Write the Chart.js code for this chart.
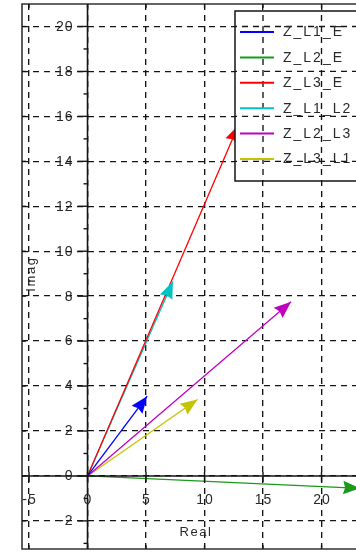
<!DOCTYPE html>
<html>
<head>
<meta charset="utf-8">
<script src="https://cdn.jsdelivr.net/npm/chart.js@4/dist/chart.umd.min.js"></script>
<style>
  html, body { margin: 0; padding: 0; background: #fff; overflow: hidden; }
  #wrap { width: 356px; height: 552px; overflow: hidden; position: relative; }
  #c { display: block; }
</style>
</head>
<body>
<div id="wrap"><canvas id="c" width="392" height="552" style="width:392px;height:552px"></canvas></div>
<script>
// Impedance phasors: real and imaginary parts of each vector
const seriesNames  = ['Z_L1_E', 'Z_L2_E', 'Z_L3_E', 'Z_L1_L2', 'Z_L2_L3', 'Z_L3_L1'];
const realParts    = [5.1, 23.3, 12.9, 7.3, 17.4, 9.4];
const imagParts    = [3.55, -0.55, 15.6, 8.65, 7.75, 3.4];
const seriesColors = ['#0000ff', '#1a991a', '#ff0000', '#00c4c4', '#c000c0', '#c4c400'];

// Axis ticks
const xTicks      = [-5, 0, 5, 10, 15, 20, 25];
const xTickLabels = ['-5', '0', '5', '10', '15', '20', '25'];
const yTicks      = [-2, 0, 2, 4, 6, 8, 10, 12, 14, 16, 18, 20];
const yTickLabels = ['-2', '0', '2', '4', '6', '8', '10', '12', '14', '16', '18', '20'];
const yMinorTicks = [-3, -1, 1, 3, 5, 7, 9, 11, 13, 15, 17, 19];

const xTitle = 'Real';
const yTitle = 'Imag';

const FONT = '"Liberation Sans", Arial, sans-serif';
const TEXT = '#2a2a2a';
const INK = '#151515';
const GRID_DASH = [6, 5];
const GRID_WIDTH = 1.35;

const datasets = seriesNames.map((name, i) => ({
  label: name,
  data: [{ x: 0, y: 0 }, { x: realParts[i], y: imagParts[i] }],
  borderColor: seriesColors[i],
  backgroundColor: seriesColors[i],
  borderWidth: 1.3,
  showLine: true,
  pointRadius: 0,
  clip: false
}));

function seg(ctx, x1, y1, x2, y2) {
  ctx.beginPath();
  ctx.moveTo(x1, y1);
  ctx.lineTo(x2, y2);
  ctx.stroke();
}

const phasorPlugin = {
  id: 'phasorDecor',
  afterDatasetsDraw(chart) {
    const ctx = chart.ctx;
    const xs = chart.scales.x, ys = chart.scales.y;
    const area = chart.chartArea;
    const x0 = xs.getPixelForValue(0), y0 = ys.getPixelForValue(0);

    // arrow heads at the end of every vector
    chart.data.datasets.forEach((ds, i) => {
      const meta = chart.getDatasetMeta(i);
      const a = meta.data[0], b = meta.data[1];
      const ang = Math.atan2(b.y - a.y, b.x - a.x);
      const len = 17, half = 6.8;
      ctx.save();
      ctx.translate(b.x, b.y);
      ctx.rotate(ang);
      ctx.fillStyle = ds.borderColor;
      ctx.beginPath();
      ctx.moveTo(0, 0);
      ctx.lineTo(-len, -half);
      ctx.lineTo(-len + 2, 0);
      ctx.lineTo(-len, half);
      ctx.closePath();
      ctx.fill();
      ctx.restore();
    });

    ctx.save();
    // frame
    ctx.strokeStyle = '#333';
    ctx.lineWidth = 1.6;
    ctx.beginPath();
    ctx.moveTo(area.right + 20, area.top);
    ctx.lineTo(area.left, area.top);
    ctx.lineTo(area.left, area.bottom);
    ctx.lineTo(area.right + 20, area.bottom);
    ctx.stroke();

    // frame ticks
    ctx.lineWidth = 1.3;
    ctx.strokeStyle = INK;
    yTicks.forEach(v => {
      const y = ys.getPixelForValue(v);
      seg(ctx, area.left, y, area.left + 4, y);
    });
    xTicks.forEach(v => {
      const x = xs.getPixelForValue(v);
      seg(ctx, x, area.bottom, x, area.bottom - 4);
      seg(ctx, x, area.top, x, area.top + 4);
    });

    // axes through the origin
    ctx.lineWidth = 1.6;
    ctx.strokeStyle = INK;
    seg(ctx, area.left, y0, area.right, y0);
    seg(ctx, x0, area.top, x0, area.bottom);

    ctx.lineWidth = 1.4;
    yTicks.forEach(v => {
      const y = ys.getPixelForValue(v);
      seg(ctx, x0 - 10, y, x0, y);
    });
    yMinorTicks.forEach(v => {
      const y = ys.getPixelForValue(v);
      seg(ctx, x0 - 4, y, x0, y);
    });
    xTicks.forEach(v => {
      const x = xs.getPixelForValue(v);
      seg(ctx, x, y0 - 4, x, y0 + 6);
    });

    // tick labels
    ctx.fillStyle = TEXT;
    ctx.font = '14px ' + FONT;
    ctx.letterSpacing = '1px';
    ctx.textBaseline = 'middle';
    ctx.textAlign = 'right';
    yTicks.forEach((v, i) => {
      ctx.fillText(yTickLabels[i], x0 - 14, ys.getPixelForValue(v) + 0.5);
    });
    ctx.textAlign = 'center';
    xTicks.forEach((v, i) => {
      ctx.fillText(xTickLabels[i], xs.getPixelForValue(v) + 0.5, y0 + 24);
    });

    // axis titles
    ctx.font = '13px ' + FONT;
    ctx.letterSpacing = '1.6px';
    ctx.fillText(xTitle, 196, 532);
    ctx.save();
    ctx.translate(31, 274);
    ctx.rotate(-Math.PI / 2);
    ctx.fillText(yTitle, 0, 0);
    ctx.restore();

    // legend box
    const lx = 235, ly = 11, lw = 160, lh = 170;
    ctx.fillStyle = '#fff';
    ctx.fillRect(lx, ly, lw, lh);
    // grid continues inside the legend box
    ctx.save();
    ctx.beginPath();
    ctx.rect(lx, ly, lw, lh);
    ctx.clip();
    ctx.strokeStyle = INK;
    ctx.lineWidth = GRID_WIDTH;
    ctx.setLineDash(GRID_DASH);
    xTicks.forEach(v => {
      const x = xs.getPixelForValue(v);
      seg(ctx, x, area.top, x, area.bottom);
    });
    yTicks.forEach(v => {
      const y = ys.getPixelForValue(v);
      seg(ctx, area.left, y, area.right, y);
    });
    ctx.restore();

    ctx.strokeStyle = INK;
    ctx.lineWidth = 1.5;
    ctx.strokeRect(lx, ly, lw, lh);

    ctx.font = '14px ' + FONT;
    ctx.letterSpacing = '2px';
    ctx.textAlign = 'left';
    ctx.textBaseline = 'middle';
    chart.data.datasets.forEach((ds, i) => {
      const y = 32 + i * 25.4;
      ctx.strokeStyle = ds.borderColor;
      ctx.lineWidth = 2;
      seg(ctx, 240, y, 274, y);
      ctx.fillStyle = TEXT;
      ctx.fillText(ds.label, 283, y + 0.5);
    });
    ctx.restore();
  }
};

const axisBase = {
  type: 'linear',
  ticks: { display: false },
  grid: { color: INK, lineWidth: GRID_WIDTH, drawTicks: false },
  border: { display: false, dash: GRID_DASH }
};

new Chart(document.getElementById('c'), {
  type: 'scatter',
  data: { datasets },
  options: {
    responsive: false,
    animation: false,
    layout: { padding: { left: 22, top: 4, right: 12, bottom: 3 } },
    plugins: { legend: { display: false }, tooltip: { enabled: false } },
    scales: {
      x: Object.assign({}, axisBase, {
        min: -5.6, max: 25,
        afterBuildTicks: s => { s.ticks = xTicks.map(v => ({ value: v })); }
      }),
      y: Object.assign({}, axisBase, {
        min: -3.25, max: 21,
        afterBuildTicks: s => { s.ticks = yTicks.map(v => ({ value: v })); }
      })
    }
  },
  plugins: [phasorPlugin]
});
</script>
</body>
</html>
